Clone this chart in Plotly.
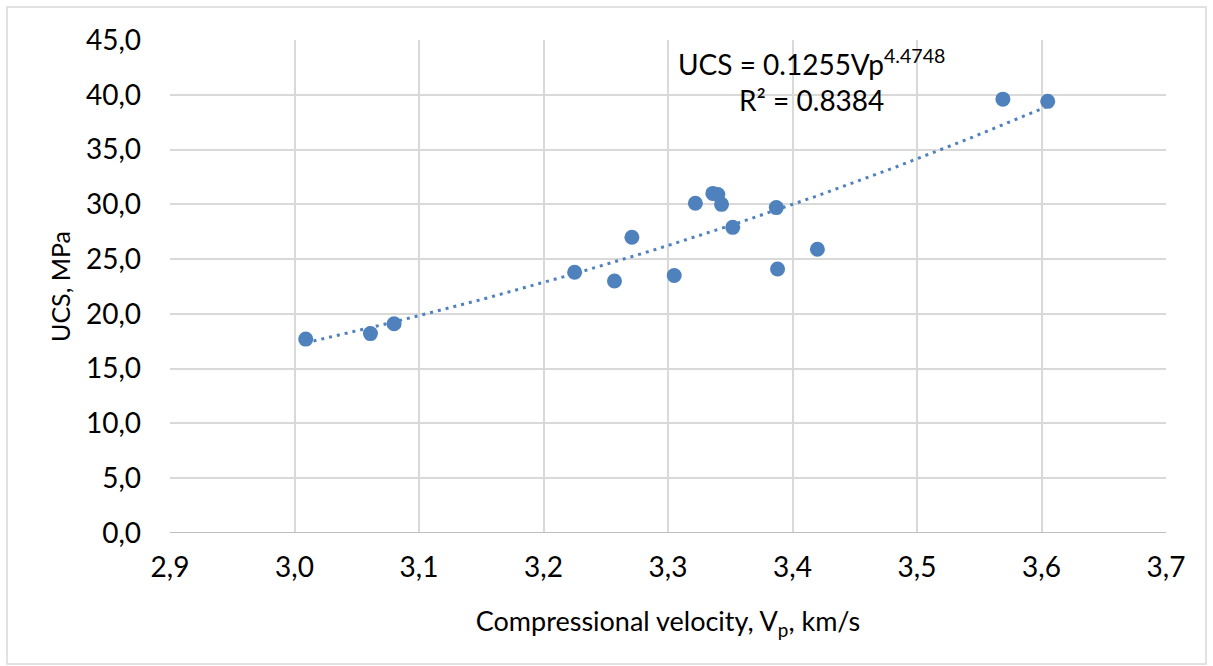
import numpy as np
import plotly.graph_objects as go

# Measured samples: P-wave velocity (km/s) and uniaxial compressive strength (MPa)
vp = [3.009, 3.061, 3.080, 3.225, 3.257, 3.271, 3.305, 3.322, 3.336, 3.340,
      3.343, 3.352, 3.387, 3.388, 3.420, 3.569, 3.605]
ucs = [17.7, 18.2, 19.1, 23.8, 23.0, 27.0, 23.5, 30.1, 31.0, 30.9,
       30.0, 27.9, 29.7, 24.1, 25.9, 39.6, 39.4]

# Power-law trend  UCS = a * Vp^b
coef_a = 0.1255
coef_b = 4.4748
r_squared = 0.8384

x_ticks = [2.9, 3.0, 3.1, 3.2, 3.3, 3.4, 3.5, 3.6, 3.7]
y_ticks = [0, 5, 10, 15, 20, 25, 30, 35, 40, 45]

blue = "#4F81BD"
grid = "#D9D9D9"
font_family = "Lato, 'Open Sans', sans-serif"

trend_x = np.linspace(min(vp), max(vp), 200)
trend_y = coef_a * trend_x ** coef_b

fig = go.Figure()
fig.add_trace(go.Scatter(
    x=trend_x, y=trend_y, mode="lines",
    line=dict(color=blue, width=3, dash="3px,5px"),
    hoverinfo="skip", showlegend=False,
))
fig.add_trace(go.Scatter(
    x=vp, y=ucs, mode="markers",
    marker=dict(color=blue, size=15, line=dict(width=0)),
    showlegend=False,
))

W, H = 1213, 666
L, R, T, B = 170, 47, 40, 133
pw, ph = W - L - R, H - T - B

def px(xp):
    return (xp - L) / pw

def py(yp):
    return 1 - (yp - T) / ph

# chart-area frame
fig.add_shape(type="rect", xref="paper", yref="paper",
              x0=px(7), x1=px(1206), y0=py(664), y1=py(7),
              line=dict(color="#D9D9D9", width=1.5), layer="below")

fig.add_annotation(
    xref="paper", yref="paper", x=px(811), y=py(81),
    text=f"UCS = {coef_a}Vp<sup>{coef_b}</sup><br>R² = {r_squared}",
    showarrow=False, align="center", xanchor="center", yanchor="middle",
    font=dict(family=font_family, size=28, color="#000000"),
)

fig.update_layout(
    width=W, height=H,
    margin=dict(l=L, r=R, t=T, b=B, autoexpand=False),
    paper_bgcolor="white", plot_bgcolor="white",
    separators=",.",
    font=dict(family=font_family, color="#000000"),
    xaxis=dict(
        range=[2.9, 3.7], tickvals=x_ticks, tickformat=".1f",
        showgrid=True, gridcolor=grid, gridwidth=1.5,
        zeroline=False, showline=False,
        tickfont=dict(size=28), ticklabelstandoff=15,
        title=dict(text="Compressional velocity, V<sub>p</sub>, km/s",
                   font=dict(size=27), standoff=30),
    ),
    yaxis=dict(
        range=[0, 45], tickvals=y_ticks, tickformat=".1f",
        showgrid=True, gridcolor=grid, gridwidth=1.5,
        zeroline=False, showline=False,
        tickfont=dict(size=28), ticklabelstandoff=28,
        title=dict(text="UCS, MPa", font=dict(size=25), standoff=8),
    ),
)
# bottom axis line at y = 0
fig.add_shape(type="line", xref="paper", yref="y", x0=0, x1=1, y0=0, y1=0,
              line=dict(color="#BFBFBF", width=2))

fig.write_html("out.html")
